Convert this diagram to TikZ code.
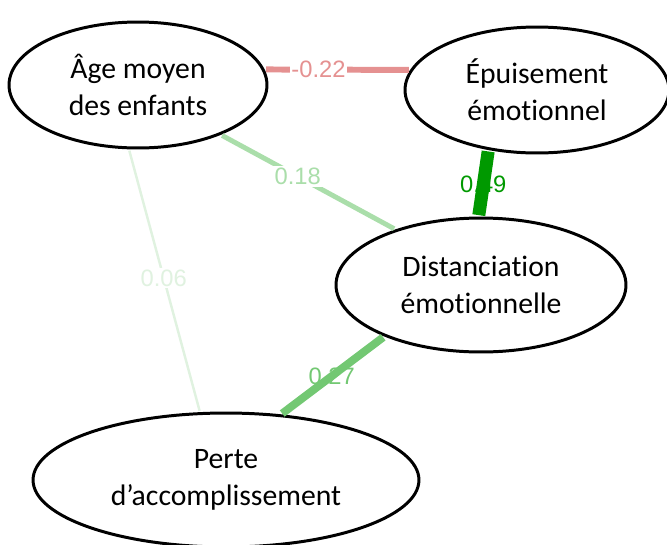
\documentclass[tikz,border=0pt]{standalone}
\usepackage{fontspec}
\setmainfont{Carlito}[Ligatures=NoCommon]
\newfontfamily\weightfont{Liberation Sans}
\usetikzlibrary{shapes.geometric}

\definecolor{negred}{RGB}{229,145,145}
\definecolor{posweak}{RGB}{224,242,224}
\definecolor{poslight}{RGB}{170,222,170}
\definecolor{posmid}{RGB}{115,200,115}
\definecolor{posstrong}{RGB}{0,153,0}

\begin{document}
\begin{tikzpicture}[
    x=0.02cm, y=-0.02cm,
    vertex/.style={ellipse, draw=black, line width=1.7pt, fill=white,
        inner sep=0pt, align=center, font=\fontsize{16.9}{21}\selectfont},
    edge/.style={-, shorten <=0.8pt, shorten >=0.8pt},
    weight/.style={font=\weightfont\fontsize{13.5}{16}\selectfont, inner sep=1pt}
]
    \useasboundingbox (0,0) rectangle (667,545);
    \node[vertex, minimum width=5.16cm, minimum height=2.52cm] (age) at (138,85) {Âge moyen\\des enfants};
    \node[vertex, minimum width=5.28cm, minimum height=2.52cm] (epuis) at (537,90) {Épuisement\\émotionnel};
    \node[vertex, minimum width=5.8cm, minimum height=2.68cm] (dist) at (481,285) {Distanciation\\émotionnelle};
    \node[vertex, minimum width=7.72cm, minimum height=2.68cm] (perte) at (226,480) {Perte\\d’accomplissement};
    \draw[edge, negred, line width=3.4pt] (age.7) -- node[weight, pos=0.37, fill=white, text=negred] (wae) {-0.22} (epuis.171);
    \draw[edge, poslight, line width=2.8pt] (age.-31) -- node[weight, pos=0.44, fill=white, text=poslight] (wad) {0.18} (dist.147);
    \draw[edge, posstrong, line width=7.4pt] (epuis.-129) -- node[weight, pos=0.52, text=posstrong] (wed) {0.49} (dist.92);
    \draw[edge, posweak, line width=1.4pt] (age.-98) -- node[weight, pos=0.49, fill=white, text=posweak] (wap) {0.06} (perte.111);
    \draw[edge, posmid, line width=4.5pt] (dist.208) -- node[weight, pos=0.51, text=posmid] (wdp) {0.27} (perte.50);
\end{tikzpicture}
\end{document}
